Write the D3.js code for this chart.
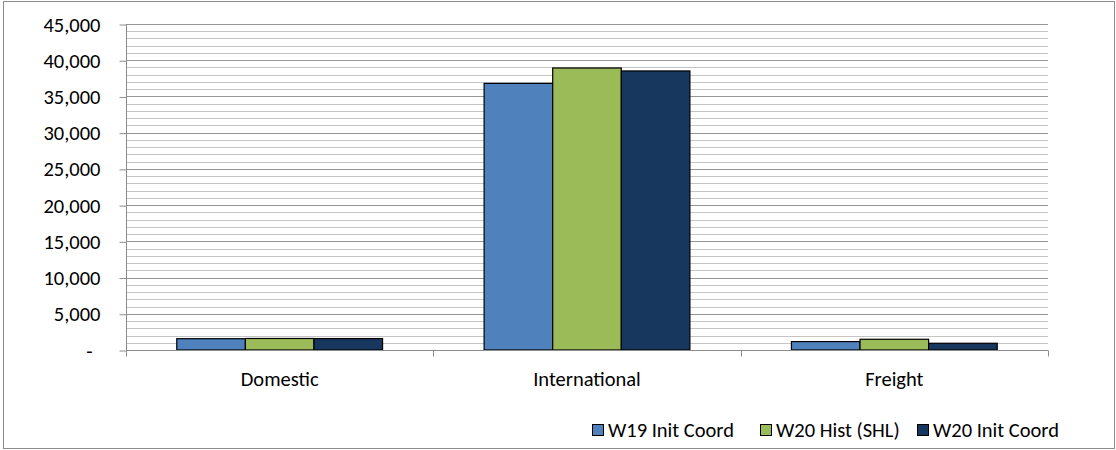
<!DOCTYPE html>
<html>
<head>
<meta charset="utf-8">
<script src="https://cdn.jsdelivr.net/npm/d3@7"></script>
<style>
  html, body { margin: 0; padding: 0; background: #fff; }
  svg text { font-family: Carlito, Lato, "Open Sans", sans-serif; fill: #000; }
</style>
</head>
<body>
<svg id="chart" width="1116" height="450"></svg>
<script>
// Passenger / freight totals by season
const categories = ["Domestic", "International", "Freight"];
const seriesNames = ["W19 Init Coord", "W20 Hist (SHL)", "W20 Init Coord"];
const w19InitCoord = [1560, 36800, 1160];
const w20HistSHL   = [1590, 38930, 1480];
const w20InitCoord = [1580, 38520, 930];
const seriesColors = ["#4F81BD", "#9BBB59", "#17375E"];
const yTicks = [0, 5000, 10000, 15000, 20000, 25000, 30000, 35000, 40000, 45000];
const yMinorTicks = d3.range(0, 45001, 1000);

const seriesValues = [w19InitCoord, w20HistSHL, w20InitCoord];
const FONT_SIZE = 20.5;

const svg = d3.select("#chart");
const W = 1116, H = 450;

// outer chart frame
svg.append("rect")
  .attr("x", 3.5).attr("y", 1.5)
  .attr("width", W - 5).attr("height", H - 3)
  .attr("fill", "#fff").attr("stroke", "#8c8c8c").attr("stroke-width", 1);

const plot = { left: 126, right: 1048, top: 24, bottom: 350 };

const x = d3.scaleBand()
  .domain(categories)
  .range([plot.left, plot.right])
  .paddingInner(0).paddingOuter(0);

const xSub = d3.scaleBand()
  .domain(d3.range(seriesNames.length))
  .range([0, x.bandwidth()])
  .paddingInner(0)
  .paddingOuter(0.74);

const y = d3.scaleLinear()
  .domain([0, 45000])
  .range([plot.bottom, plot.top]);

// minor gridlines
svg.append("g")
  .selectAll("line")
  .data(yMinorTicks.filter(v => v % 5000 !== 0))
  .join("line")
  .attr("x1", plot.left).attr("x2", plot.right)
  .attr("y1", d => Math.round(y(d)) + 0.5).attr("y2", d => Math.round(y(d)) + 0.5)
  .attr("stroke", "#c4c4c4").attr("stroke-width", 1);

// major gridlines
svg.append("g")
  .selectAll("line")
  .data(yTicks.filter(v => v > 0))
  .join("line")
  .attr("x1", plot.left).attr("x2", plot.right)
  .attr("y1", d => Math.round(y(d)) + 0.5).attr("y2", d => Math.round(y(d)) + 0.5)
  .attr("stroke", "#969696").attr("stroke-width", 1);

// bars
const groups = svg.append("g")
  .selectAll("g")
  .data(categories)
  .join("g")
  .attr("transform", d => `translate(${x(d)},0)`);

groups.selectAll("rect")
  .data((d, ci) => seriesValues.map((vals, si) => ({ si, v: vals[ci] })))
  .join("rect")
  .attr("x", d => xSub(d.si))
  .attr("y", d => y(d.v))
  .attr("width", xSub.bandwidth())
  .attr("height", d => y(0) - y(d.v))
  .attr("fill", d => seriesColors[d.si])
  .attr("stroke", "#000").attr("stroke-width", 1.2);

// y axis
const yAxis = d3.axisLeft(y)
  .tickValues(yTicks)
  .tickSize(7)
  .tickPadding(19)
  .tickFormat(d => d === 0 ? "-" : d3.format(",")(d));

const ya = svg.append("g")
  .attr("transform", `translate(${plot.left + 0.5},0.5)`)
  .call(yAxis);
ya.select(".domain").attr("stroke", "#8c8c8c").attr("d", `M0,${plot.top}V${plot.bottom}`);
ya.selectAll(".tick line").attr("stroke", "#8c8c8c");
ya.selectAll(".tick text")
  .attr("font-size", FONT_SIZE)
  .attr("font-family", "Carlito, Lato, 'Open Sans', sans-serif")
  .attr("fill", "#000");
ya.selectAll(".tick").filter(d => d === 0).select("text").attr("dx", -8);

// x axis
const xa = svg.append("g")
  .attr("transform", `translate(0,${plot.bottom + 0.5})`);
xa.append("line")
  .attr("x1", plot.left).attr("x2", plot.right)
  .attr("stroke", "#8c8c8c");
xa.selectAll("line.tick")
  .data([...categories.map(c => x(c)), plot.right])
  .join("line")
  .attr("class", "tick")
  .attr("x1", d => Math.round(d) + 0.5).attr("x2", d => Math.round(d) + 0.5)
  .attr("y1", 0).attr("y2", 6)
  .attr("stroke", "#8c8c8c");
xa.selectAll("text")
  .data(categories)
  .join("text")
  .attr("x", d => x(d) + x.bandwidth() / 2)
  .attr("y", 35)
  .attr("text-anchor", "middle")
  .attr("font-size", FONT_SIZE)
  .text(d => d);

// legend
const legendItems = [
  { x: 592, name: seriesNames[0], color: seriesColors[0] },
  { x: 760, name: seriesNames[1], color: seriesColors[1] },
  { x: 917, name: seriesNames[2], color: seriesColors[2] }
];
const legend = svg.append("g").attr("transform", "translate(0,424)");
const li = legend.selectAll("g")
  .data(legendItems)
  .join("g")
  .attr("transform", d => `translate(${d.x},0)`);
li.append("rect")
  .attr("x", 0.5).attr("y", 0.5)
  .attr("width", 11).attr("height", 11)
  .attr("fill", d => d.color)
  .attr("stroke", "#000").attr("stroke-width", 1);
li.append("text")
  .attr("x", 16).attr("y", 6)
  .attr("dy", "0.35em")
  .attr("font-size", FONT_SIZE)
  .text(d => d.name);
</script>
</body>
</html>
